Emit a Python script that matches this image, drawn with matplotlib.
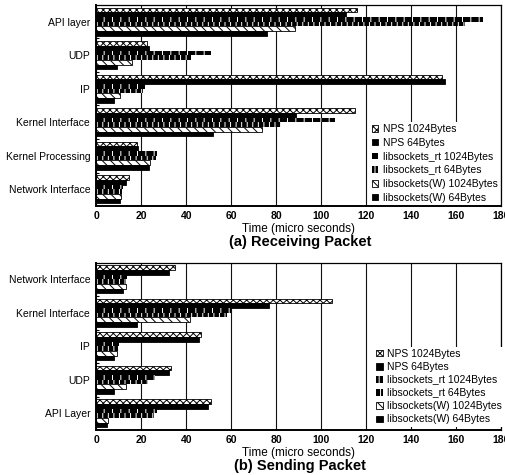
import numpy as np
import matplotlib
matplotlib.use("Agg")
import matplotlib.pyplot as plt

plt.rcParams['font.family'] = ['Liberation Sans', 'DejaVu Sans']
plt.rcParams['hatch.linewidth'] = 0.7

series = ["NPS 1024Bytes", "NPS 64Bytes", "libsockets_rt 1024Bytes",
          "libsockets_rt 64Bytes", "libsockets(W) 1024Bytes", "libsockets(W) 64Bytes"]

# receiving path, top to bottom
recv_layers = ["API layer", "UDP", "IP", "Kernel Interface", "Kernel Processing", "Network Interface"]
recv_nps_1024 = [116, 22.5, 154, 115, 18, 14.5]
recv_nps_64 = [111, 23.5, 155, 89, 18.5, 13]
recv_rt_1024 = [172, 51, 21.5, 106, 27, 12]
recv_rt_64 = [164, 42, 20.5, 82, 26.5, 11.5]
recv_w_1024 = [88.5, 16, 10.5, 73.5, 24, 11]
recv_w_64 = [76, 9, 8, 52, 23.5, 10.5]

# sending path, top to bottom
send_layers = ["Network Interface", "Kernel Interface", "IP", "UDP", "API Layer"]
send_nps_1024 = [35, 105, 46.5, 33, 51]
send_nps_64 = [32.5, 77, 45.5, 32.5, 49.5]
send_rt_1024 = [13.5, 60, 10, 26, 27]
send_rt_64 = [13, 58, 9.5, 23, 25.5]
send_w_1024 = [13.3, 41.5, 9, 13, 5]
send_w_64 = [12, 18, 8, 8, 4.5]

xticks = [0, 20, 40, 60, 80, 100, 120, 140, 160, 180]

styles = [
    dict(color='white', edgecolor='black', hatch='xxxxx', linewidth=0.6),
    dict(color='black', edgecolor='black', linewidth=0.6),
    dict(color='black', edgecolor='white', hatch='||', linewidth=0),
    dict(color='black', edgecolor='white', hatch='|||', linewidth=0),
    dict(color='white', edgecolor='black', hatch='\\\\\\\\', linewidth=0.6),
    dict(color='black', edgecolor='black', linewidth=0.6),
]


def draw(ax, layers, cols, title, leg_anchor, spacing):
    y = np.arange(len(layers))
    h = 0.14
    for k, vals in enumerate(cols):
        ax.barh(y + (k - 2.5) * h, vals, height=h, label=series[k], **styles[k])
    ax.set_ylim(len(layers) - 0.5, -0.5)
    ax.set_xlim(0, 180)
    ax.set_xticks(xticks)
    ax.set_xticklabels([str(t) for t in xticks], fontsize=7.5, fontweight='bold')
    ax.set_yticks(y)
    ax.set_yticklabels(layers, fontsize=7.5)
    ax.set_yticks(y[:-1] + 0.5, minor=True)
    ax.tick_params(axis='x', length=0, pad=3.5)
    ax.tick_params(axis='y', which='major', length=0, pad=4.5)
    ax.tick_params(axis='y', which='minor', direction='in', length=2.5, width=0.8)
    ax.xaxis.grid(True, color='#111111', linewidth=0.8)
    ax.set_axisbelow(True)
    for side in ['left', 'bottom']:
        ax.spines[side].set_linewidth(1.4)
    for side in ['top', 'right']:
        ax.spines[side].set_linewidth(0.9)
    ax.annotate("Time (micro seconds)", xy=(0.5, 0), xycoords='axes fraction',
                xytext=(0, -16.6), textcoords='offset points',
                ha='center', va='center', fontsize=8.5)
    ax.annotate(title, xy=(0.5, 0), xycoords='axes fraction',
                xytext=(1, -25.6), textcoords='offset points',
                ha='center', va='center', fontsize=10.5, fontweight='bold')
    ax.legend(loc='upper left', bbox_to_anchor=leg_anchor, fontsize=7.5,
              frameon=True, fancybox=False, framealpha=1, facecolor='white',
              edgecolor='none', borderpad=0.2, borderaxespad=0,
              handlelength=0.6, handleheight=0.6, handletextpad=0.4,
              labelspacing=spacing)


fig = plt.figure(figsize=(5.06, 4.75), dpi=100)
ax1 = fig.add_axes([0.1907, 0.5663, 0.7988, 0.4232])
ax2 = fig.add_axes([0.1907, 0.0947, 0.7988, 0.3526])

draw(ax1, recv_layers,
     [recv_nps_1024, recv_nps_64, recv_rt_1024, recv_rt_64, recv_w_1024, recv_w_64],
     "(a) Receiving Packet", (0.677, 0.418), 0.36)
draw(ax2, send_layers,
     [send_nps_1024, send_nps_64, send_rt_1024, send_rt_64, send_w_1024, send_w_64],
     "(b) Sending Packet", (0.687, 0.497), 0.3)

fig.savefig("out.png", dpi=100)
